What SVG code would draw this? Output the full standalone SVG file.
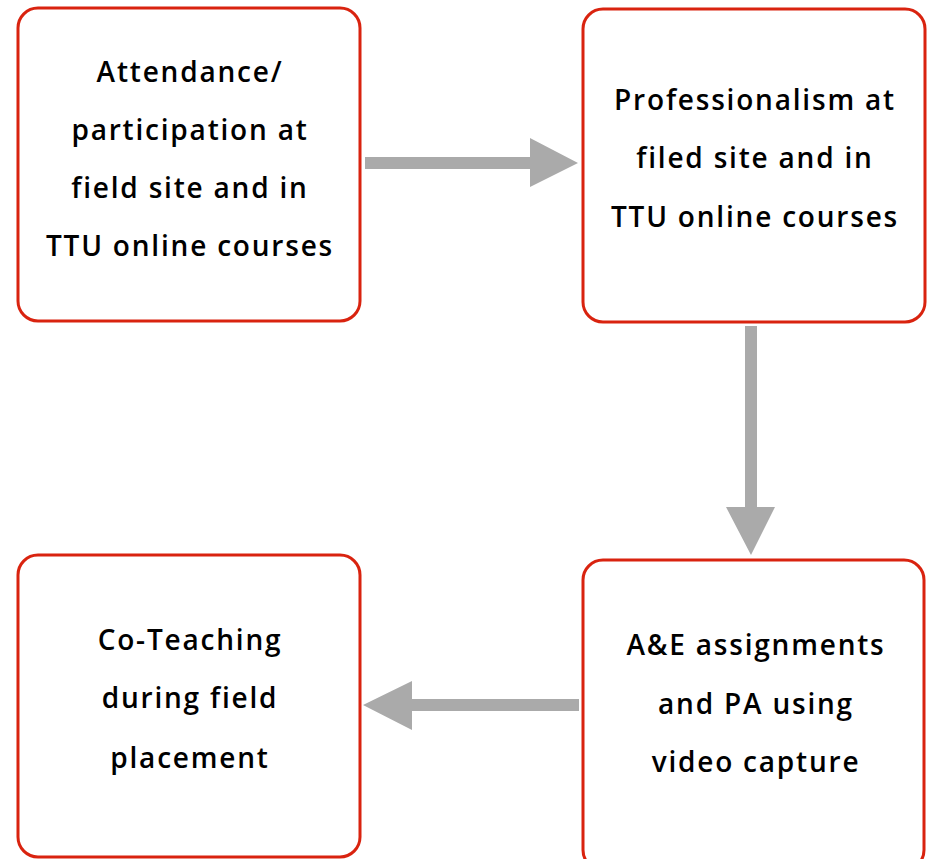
<svg xmlns="http://www.w3.org/2000/svg" width="932" height="859" viewBox="0 0 932 859">
<style>
.box{fill:#fff;stroke:#d9230f;stroke-width:3}
.t{font-family:"Open Sans",Lato,sans-serif;font-weight:600;font-size:28px;letter-spacing:1.8px;fill:#000;text-anchor:middle;font-variant-ligatures:none}
.arr{fill:#aaaaaa}
</style>
<rect width="932" height="859" fill="#fff"/>
<g id="node1">
<rect class="box" x="18" y="8" width="342" height="313" rx="20"/>
<text class="t" x="190" y="82">Attendance/</text>
<text class="t" x="190" y="140">participation at</text>
<text class="t" x="190" y="198">field site and in</text>
<text class="t" x="190" y="256">TTU online courses</text>
</g>
<g id="node2">
<rect class="box" x="583" y="9" width="342" height="313" rx="20"/>
<text class="t" x="755" y="110">Professionalism at</text>
<text class="t" x="755" y="168">filed site and in</text>
<text class="t" x="755" y="227">TTU online courses</text>
</g>
<g id="node3">
<rect class="box" x="583" y="560" width="341" height="310" rx="20"/>
<text class="t" x="756" y="655">A&amp;E assignments</text>
<text class="t" x="756" y="714">and PA using</text>
<text class="t" x="756" y="772">video capture</text>
</g>
<g id="node4">
<rect class="box" x="18" y="555" width="342" height="302" rx="20"/>
<text class="t" x="190" y="650">Co-Teaching</text>
<text class="t" x="190" y="708">during field</text>
<text class="t" x="190" y="768">placement</text>
</g>
<g id="connectors">
<polygon class="arr" points="365,157 530,157 530,138 578,163 530,187 530,169 365,169"/>
<polygon class="arr" points="745,326 757,326 757,507 775,507 751,555 726,507 745,507"/>
<polygon class="arr" points="579,699 412,699 412,681 363,705 412,730 412,711 579,711"/>
</g>
</svg>
